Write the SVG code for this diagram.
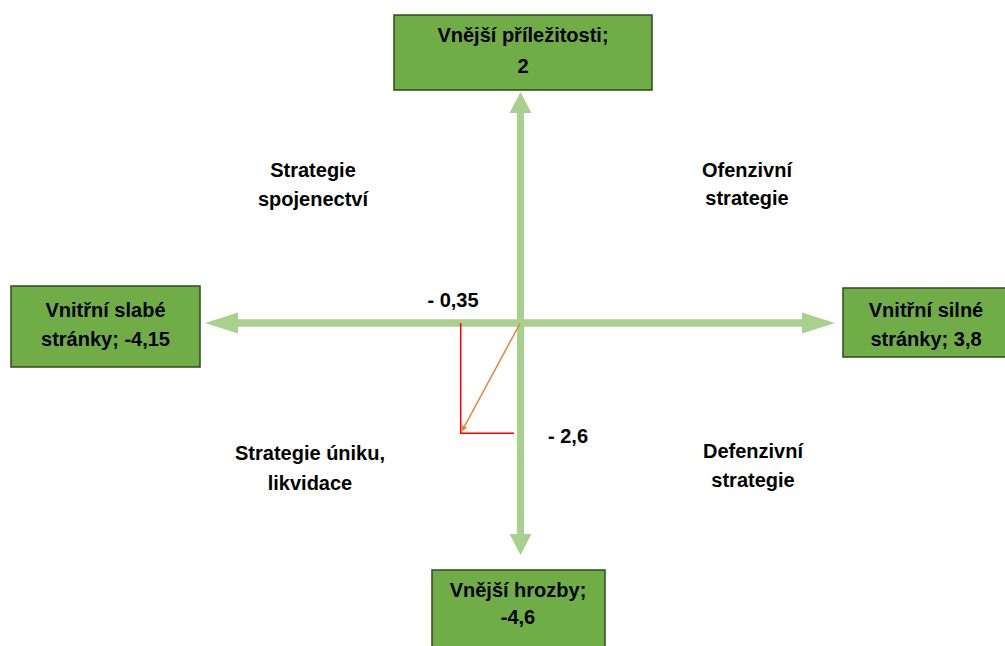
<svg xmlns="http://www.w3.org/2000/svg" width="1005" height="646" viewBox="0 0 1005 646">
  <style>
    .box { fill: #70AD47; stroke: #2E4A1E; stroke-width: 1.5; }
    .t { font-family: "Liberation Sans", Arial, sans-serif; font-weight: bold; font-size: 20px; fill: #000; text-anchor: middle; }
    .axis { fill: #A9D18E; }
  </style>
  <defs>
    <marker id="orangeHead" viewBox="0 0 10 10" refX="9" refY="5" markerWidth="4" markerHeight="4" orient="auto" markerUnits="strokeWidth">
      <path d="M0,0 L10,5 L0,10 z" fill="#ED7D31"/>
    </marker>
  </defs>

  <!-- axes -->
  <g id="connectors">
    <!-- vertical axis, arrowheads at both ends -->
    <polygon class="axis" points="520.5,92 531.5,113 524,113 524,534 531.5,534 520.5,555 509.5,534 517,534 517,113 509.5,113"/>
    <!-- horizontal axis, arrowheads at both ends -->
    <polygon class="axis" points="205,323 238,312.5 238,319.3 802,319.3 802,312.5 835,323 802,333.5 802,326.7 238,326.7 238,333.5"/>
    <!-- resulting position -->
    <polyline points="460.7,323 460.7,433.3 514,433.3" fill="none" stroke="#FF0000" stroke-width="1.5"/>
    <line x1="520" y1="323.5" x2="462" y2="431" stroke="#ED7D31" stroke-width="1.5" marker-end="url(#orangeHead)"/>
  </g>

  <g id="node-top">
    <rect class="box" x="394" y="15" width="258" height="75"/>
    <text class="t" x="523" y="42">Vnější příležitosti;</text>
    <text class="t" x="523" y="73">2</text>
  </g>

  <g id="node-left">
    <rect class="box" x="11" y="286" width="189" height="81"/>
    <text class="t" x="105.5" y="317">Vnitřní slabé</text>
    <text class="t" x="105.5" y="346">stránky; -4,15</text>
  </g>

  <g id="node-right">
    <rect class="box" x="843" y="288" width="170" height="69"/>
    <text class="t" x="926" y="317">Vnitřní silné</text>
    <text class="t" x="926" y="346">stránky; 3,8</text>
  </g>

  <g id="node-bottom">
    <rect class="box" x="432" y="570" width="173" height="85"/>
    <text class="t" x="518" y="597">Vnější hrozby;</text>
    <text class="t" x="518" y="624">-4,6</text>
  </g>

  <g id="labels">
    <text class="t" x="313" y="177">Strategie</text>
    <text class="t" x="313" y="206">spojenectví</text>
    <text class="t" x="747" y="177">Ofenzivní</text>
    <text class="t" x="747" y="205">strategie</text>
    <text class="t" x="310" y="460">Strategie úniku,</text>
    <text class="t" x="310" y="490">likvidace</text>
    <text class="t" x="753" y="458">Defenzivní</text>
    <text class="t" x="753" y="487">strategie</text>
    <text class="t" x="453" y="307">- 0,35</text>
    <text class="t" x="568" y="443">- 2,6</text>
  </g>
</svg>
